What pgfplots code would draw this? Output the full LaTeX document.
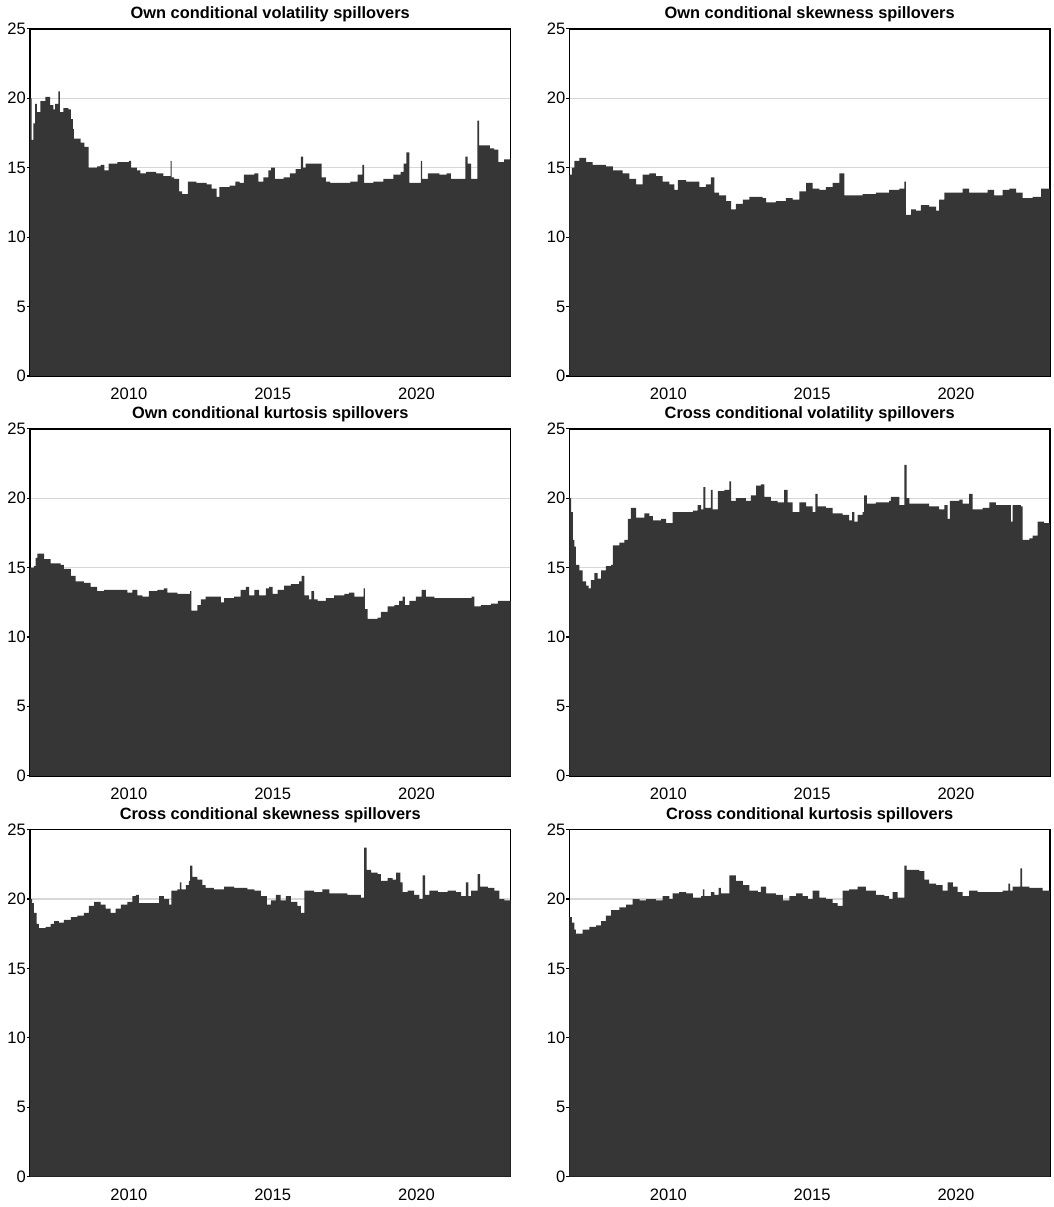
\documentclass[border=0pt]{standalone}
\usepackage{fontspec}
\setmainfont{Liberation Sans}
\usepackage{pgfplots}
\pgfplotsset{compat=1.18}
\definecolor{areac}{RGB}{54,54,54}
\definecolor{gridc}{RGB}{215,215,215}
\pgfplotsset{panel/.style={
 scale only axis, width=241pt, height=174pt,
 xmin=2006.56, xmax=2023.27, ymin=0, ymax=25,
 xtick={2010,2015,2020}, ytick={0,5,...,25},
 ymajorgrids, grid style={gridc, line width=0.6pt},
 axis line style={black, line width=0.8pt},
 tick align=outside, major tick length=1.5pt,
 ytick pos=left, xtick pos=bottom,
 xtick style={draw=none}, ytick style={black,line width=0.6pt},
 tick label style={font=\fontsize{8.3}{9}\selectfont},
 /pgf/number format/assume math mode=true,
 /pgf/number format/1000 sep={},
 xticklabel style={yshift=-1pt},
 yticklabel style={xshift=3pt},
 title style={font=\bfseries\fontsize{8.2}{9}\selectfont, at={(0.5,1)}, anchor=base, yshift=-1pt},
},
area/.style={const plot, fill=areac, draw=none}}
\begin{document}
\begin{tikzpicture}
\path (0,0) rectangle (528.5pt,603.5pt);
% Panel 1
\begin{axis}[panel, at={(15pt,415pt)}, anchor=south west, title={Own conditional volatility spillovers}]
\addplot[area] coordinates {
(2006.56,20.0)(2006.62,17.0)(2006.68,18.2)(2006.74,19.6)(2006.80,19.0)(2006.92,19.8)
(2007.10,20.1)(2007.26,19.5)(2007.38,19.2)(2007.44,19.6)(2007.55,20.5)(2007.60,19.0)
(2007.72,19.3)(2007.90,19.2)(2007.98,18.5)(2008.05,17.8)(2008.09,17.1)(2008.32,16.8)
(2008.45,16.5)(2008.60,15.0)(2008.90,15.1)(2009.02,15.2)(2009.15,14.8)(2009.30,15.3)
(2009.60,15.4)(2010.00,15.5)(2010.08,15.0)(2010.28,14.8)(2010.40,14.6)(2010.60,14.7)
(2010.95,14.6)(2011.20,14.4)(2011.45,15.5)(2011.49,14.3)(2011.57,14.2)(2011.75,13.3)
(2011.85,13.1)(2012.05,14.0)(2012.35,13.9)(2012.70,13.8)(2012.88,13.5)(2013.05,12.9)
(2013.15,13.6)(2013.50,13.7)(2013.70,14.0)(2013.85,13.9)(2014.00,14.5)(2014.36,14.6)
(2014.50,14.0)(2014.68,14.3)(2014.85,14.8)(2014.95,15.0)(2015.08,14.2)(2015.38,14.3)
(2015.60,14.6)(2015.80,14.9)(2015.98,15.8)(2016.06,15.0)(2016.15,15.3)(2016.70,14.3)
(2016.85,14.0)(2017.00,13.9)(2017.70,14.0)(2017.95,14.5)(2018.12,15.2)(2018.18,13.9)
(2018.50,14.0)(2018.85,14.2)(2019.20,14.5)(2019.45,14.7)(2019.55,15.3)(2019.65,16.1)
(2019.75,13.9)(2020.15,15.5)(2020.20,14.2)(2020.40,14.6)(2020.80,14.5)(2021.05,14.6)
(2021.20,14.2)(2021.70,15.8)(2021.78,15.3)(2021.90,14.2)(2022.12,18.4)(2022.18,16.6)
(2022.55,16.4)(2022.70,16.3)(2022.85,15.4)(2023.05,15.6)(2023.27,15.5)
} \closedcycle;
\end{axis}
% Panel 2
\begin{axis}[panel, at={(285.5pt,415pt)}, anchor=south west, title={Own conditional skewness spillovers}]
\addplot[area] coordinates {
(2006.56,14.5)(2006.65,15.0)(2006.73,15.5)(2006.91,15.7)(2007.14,15.4)(2007.37,15.2)
(2007.83,15.1)(2008.07,14.8)(2008.41,14.6)(2008.65,14.2)(2008.88,13.8)(2009.11,14.5)
(2009.34,14.6)(2009.57,14.4)(2009.80,14.0)(2010.04,13.8)(2010.21,13.4)(2010.33,14.1)
(2010.62,14.0)(2010.91,14.0)(2011.08,13.6)(2011.31,13.8)(2011.48,14.3)(2011.60,13.2)
(2011.77,13.0)(2012.01,12.6)(2012.18,12.0)(2012.35,12.4)(2012.59,12.7)(2012.82,12.9)
(2013.28,12.8)(2013.40,12.5)(2013.74,12.6)(2014.09,12.8)(2014.32,12.7)(2014.56,13.3)
(2014.79,13.9)(2015.02,13.5)(2015.25,13.4)(2015.48,13.6)(2015.71,13.9)(2015.95,14.6)
(2016.12,13.0)(2016.41,13.0)(2016.76,13.1)(2017.22,13.2)(2017.68,13.4)(2018.03,13.5)
(2018.21,14.0)(2018.26,11.6)(2018.44,12.0)(2018.61,11.9)(2018.78,12.3)(2019.07,12.2)
(2019.31,11.9)(2019.42,12.7)(2019.60,13.2)(2019.89,13.2)(2020.23,13.5)(2020.46,13.2)
(2020.81,13.2)(2021.10,13.4)(2021.33,13.0)(2021.62,13.4)(2021.86,13.5)(2022.09,13.2)
(2022.32,12.8)(2022.67,12.9)(2022.96,13.5)(2023.27,13.7)
} \closedcycle;
\end{axis}
% Panel 3
\begin{axis}[panel, at={(15pt,214.5pt)}, anchor=south west, title={Own conditional kurtosis spillovers}]
\addplot[area] coordinates {
(2006.56,15.0)(2006.70,15.1)(2006.76,15.7)(2006.82,16.0)(2007.05,15.6)(2007.28,15.3)
(2007.63,15.2)(2007.74,14.9)(2007.98,14.4)(2008.15,14.0)(2008.44,13.9)(2008.67,13.6)
(2008.90,13.3)(2009.14,13.4)(2009.60,13.4)(2009.95,13.2)(2010.12,13.4)(2010.30,13.0)
(2010.47,12.9)(2010.70,13.3)(2010.99,13.4)(2011.22,13.5)(2011.34,13.2)(2011.69,13.1)
(2012.04,13.1)(2012.13,13.3)(2012.17,11.9)(2012.38,12.3)(2012.50,12.7)(2012.67,12.9)
(2013.08,12.9)(2013.20,12.5)(2013.31,12.8)(2013.66,12.9)(2013.89,13.4)(2014.07,13.6)
(2014.18,13.0)(2014.36,13.4)(2014.53,13.0)(2014.76,13.5)(2014.88,13.6)(2015.00,13.1)
(2015.17,13.4)(2015.40,13.7)(2015.63,13.8)(2015.92,14.0)(2016.01,14.4)(2016.10,13.0)
(2016.27,12.7)(2016.35,13.3)(2016.44,12.7)(2016.56,12.6)(2016.85,12.8)(2017.14,13.0)
(2017.49,13.1)(2017.66,13.2)(2017.84,12.9)(2018.16,13.5)(2018.21,12.0)(2018.30,11.3)
(2018.65,11.4)(2018.76,11.8)(2019.00,12.2)(2019.23,12.3)(2019.40,12.6)(2019.52,12.9)
(2019.60,12.3)(2019.75,12.6)(2019.98,12.9)(2020.18,13.4)(2020.33,12.9)(2020.62,12.8)
(2020.97,12.8)(2021.32,12.8)(2021.78,12.8)(2021.92,12.9)(2022.01,12.2)(2022.24,12.3)
(2022.59,12.4)(2022.83,12.6)(2023.06,12.6)(2023.27,12.6)
} \closedcycle;
\end{axis}
% Panel 4
\begin{axis}[panel, at={(285.5pt,214.5pt)}, anchor=south west, title={Cross conditional volatility spillovers}]
\addplot[area] coordinates {
(2006.56,20.0)(2006.62,19.0)(2006.68,17.0)(2006.73,16.5)(2006.79,15.2)(2006.91,14.8)
(2007.02,14.0)(2007.14,13.7)(2007.23,13.5)(2007.31,14.1)(2007.43,14.6)(2007.54,14.2)
(2007.66,14.8)(2007.83,15.1)(2008.01,15.2)(2008.07,16.6)(2008.30,16.8)(2008.47,17.0)
(2008.59,18.5)(2008.70,19.3)(2008.88,18.6)(2009.17,18.9)(2009.34,18.7)(2009.46,18.4)
(2009.75,18.5)(2009.92,18.2)(2010.15,19.0)(2010.62,19.0)(2010.85,19.1)(2011.02,19.5)
(2011.14,19.2)(2011.22,20.8)(2011.29,19.3)(2011.48,20.6)(2011.54,19.2)(2011.72,20.5)
(2011.95,20.6)(2012.12,21.2)(2012.18,19.8)(2012.35,20.0)(2012.70,19.8)(2012.87,20.2)
(2013.05,20.9)(2013.22,21.0)(2013.34,20.1)(2013.57,19.8)(2013.80,19.7)(2014.03,20.6)
(2014.15,19.7)(2014.32,19.0)(2014.56,19.7)(2014.79,19.4)(2015.02,19.0)(2015.11,20.3)
(2015.19,19.4)(2015.48,19.3)(2015.71,18.9)(2016.06,18.8)(2016.29,18.4)(2016.39,19.0)
(2016.47,18.3)(2016.58,18.8)(2016.76,19.0)(2016.81,20.2)(2016.90,19.6)(2017.22,19.7)
(2017.68,19.8)(2017.74,20.1)(2018.03,19.5)(2018.21,22.4)(2018.29,20.0)(2018.38,19.6)
(2018.84,19.6)(2019.07,19.4)(2019.42,19.2)(2019.60,19.5)(2019.71,18.5)(2019.79,19.8)
(2020.12,19.9)(2020.23,19.6)(2020.46,20.3)(2020.58,19.2)(2020.93,19.3)(2021.16,19.7)
(2021.39,19.5)(2021.86,19.5)(2021.91,18.3)(2021.97,19.5)(2022.26,19.4)(2022.32,17.0)
(2022.55,17.1)(2022.67,17.3)(2022.84,18.3)(2023.07,18.2)(2023.27,18.0)
} \closedcycle;
\end{axis}
% Panel 5
\begin{axis}[panel, at={(15pt,13.5pt)}, anchor=south west, title={Cross conditional skewness spillovers}]
\addplot[area] coordinates {
(2006.56,20.0)(2006.64,19.7)(2006.70,19.0)(2006.79,18.2)(2006.87,17.9)(2007.11,18.0)
(2007.28,18.2)(2007.40,18.4)(2007.57,18.3)(2007.74,18.5)(2007.98,18.7)(2008.21,18.8)
(2008.44,19.0)(2008.61,19.5)(2008.79,19.8)(2009.02,19.6)(2009.19,19.3)(2009.37,19.0)
(2009.54,19.3)(2009.72,19.6)(2009.95,19.8)(2010.12,20.2)(2010.24,20.3)(2010.35,19.7)
(2010.64,19.7)(2010.93,19.7)(2011.05,20.2)(2011.22,20.0)(2011.40,19.6)(2011.48,20.6)
(2011.69,20.7)(2011.77,21.2)(2011.83,20.7)(2011.98,21.0)(2012.09,21.3)(2012.13,22.4)
(2012.21,21.6)(2012.38,21.4)(2012.56,21.0)(2012.67,20.8)(2012.96,20.7)(2013.31,20.9)
(2013.66,20.8)(2014.12,20.7)(2014.36,20.6)(2014.59,20.2)(2014.80,19.6)(2014.94,19.9)
(2015.11,20.3)(2015.28,19.9)(2015.46,20.2)(2015.63,19.8)(2015.86,19.5)(2015.98,19.0)
(2016.10,20.6)(2016.44,20.5)(2016.73,20.7)(2016.97,20.4)(2017.26,20.4)(2017.60,20.3)
(2017.95,20.3)(2018.07,20.1)(2018.18,23.7)(2018.27,22.1)(2018.42,21.9)(2018.65,21.8)
(2018.76,21.3)(2019.00,21.5)(2019.17,21.4)(2019.29,21.9)(2019.44,21.2)(2019.52,20.5)
(2019.69,20.6)(2019.92,20.3)(2020.10,20.0)(2020.21,21.7)(2020.30,20.3)(2020.45,20.6)
(2020.74,20.5)(2021.08,20.6)(2021.37,20.5)(2021.55,20.2)(2021.72,21.2)(2021.80,20.2)
(2021.90,20.6)(2022.13,21.8)(2022.21,20.9)(2022.48,20.8)(2022.71,20.6)(2022.88,20.0)
(2023.06,19.9)(2023.27,20.0)
} \closedcycle;
\end{axis}
% Panel 6
\begin{axis}[panel, at={(285.5pt,13.5pt)}, anchor=south west, title={Cross conditional kurtosis spillovers}]
\addplot[area] coordinates {
(2006.56,18.7)(2006.65,18.3)(2006.73,17.8)(2006.79,17.5)(2007.02,17.8)(2007.26,18.0)
(2007.49,18.1)(2007.66,18.4)(2007.83,18.8)(2008.01,19.2)(2008.30,19.4)(2008.53,19.6)
(2008.76,20.0)(2009.00,19.9)(2009.23,20.0)(2009.57,19.9)(2009.80,20.2)(2010.04,20.0)
(2010.15,20.4)(2010.38,20.5)(2010.62,20.4)(2010.85,20.1)(2011.14,20.2)(2011.20,20.7)
(2011.25,20.2)(2011.48,20.5)(2011.60,20.3)(2011.75,20.8)(2011.83,20.4)(2012.12,21.7)
(2012.35,21.3)(2012.59,21.0)(2012.82,20.6)(2013.11,20.5)(2013.22,20.9)(2013.40,20.4)
(2013.74,20.3)(2013.98,19.9)(2014.21,20.2)(2014.44,20.4)(2014.67,20.2)(2014.85,20.0)
(2015.02,20.6)(2015.25,20.1)(2015.48,20.0)(2015.71,19.7)(2015.89,19.5)(2016.06,20.6)
(2016.29,20.7)(2016.58,20.9)(2016.87,20.6)(2017.22,20.3)(2017.51,20.2)(2017.68,20.0)
(2017.80,20.5)(2017.97,20.1)(2018.21,22.4)(2018.29,22.1)(2018.73,22.0)(2018.90,21.4)
(2019.07,21.1)(2019.31,21.0)(2019.54,20.6)(2019.71,21.2)(2019.89,20.9)(2020.06,20.5)
(2020.23,20.2)(2020.46,20.6)(2020.75,20.5)(2021.16,20.5)(2021.62,20.6)(2021.82,21.1)
(2021.88,20.6)(2021.97,20.9)(2022.24,22.2)(2022.30,20.9)(2022.55,20.8)(2022.84,20.8)
(2023.01,20.6)(2023.27,20.6)
} \closedcycle;
\end{axis}
\end{tikzpicture}
\end{document}
